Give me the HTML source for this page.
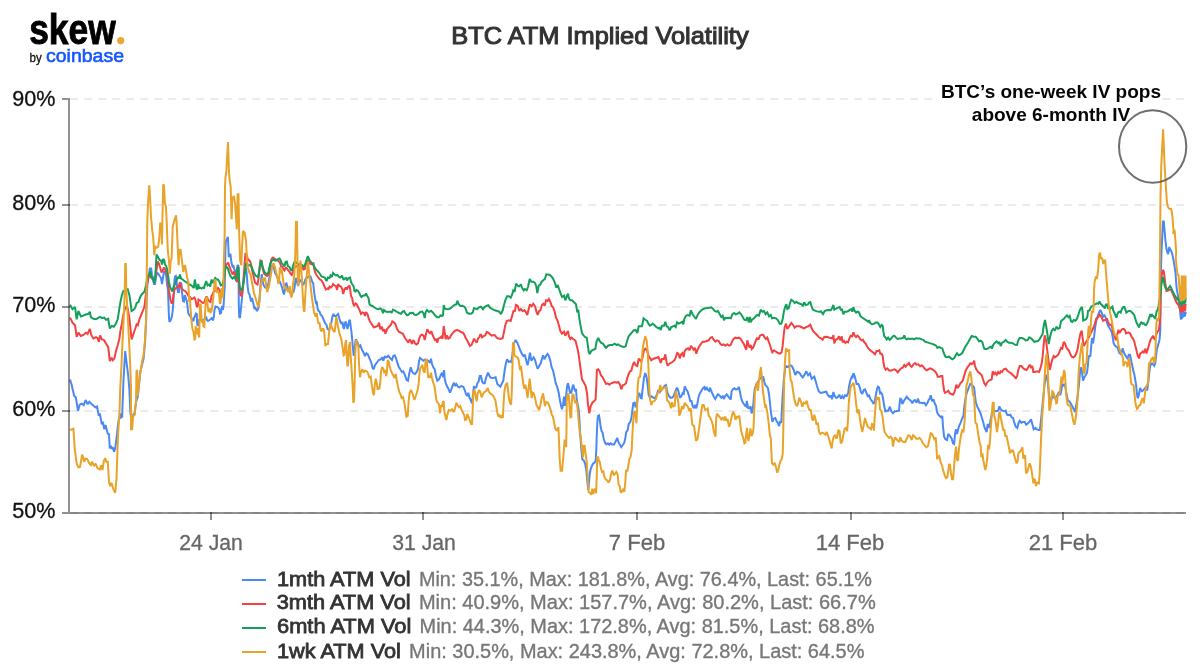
<!DOCTYPE html>
<html lang="en"><head><meta charset="utf-8"><title>BTC ATM Implied Volatility</title>
<style>
html,body{margin:0;padding:0;background:#fff;}
body{width:1200px;height:670px;overflow:hidden;font-family:"Liberation Sans",sans-serif;}
svg{display:block;will-change:transform;}
text{font-family:"Liberation Sans",sans-serif;}
.ylab{font-size:22.3px;fill:#111;stroke:#111;stroke-width:0.3px;text-anchor:end;}
.xlab{font-size:22px;fill:#666;stroke:#666;stroke-width:0.3px;text-anchor:middle;}
.title{font-size:24px;fill:#333;stroke:#333;stroke-width:1.05px;text-anchor:middle;}
.leg{font-size:20.5px;fill:#777;stroke:#777;stroke-width:0.35px;}
.legb{font-size:20.5px;fill:#333;stroke:#333;stroke-width:0.8px;}
.ann{font-size:19px;font-weight:bold;fill:#050505;text-anchor:middle;}
</style></head><body>
<svg width="1200" height="670" viewBox="0 0 1200 670">
<rect width="1200" height="670" fill="#fff"/>
<line x1="70.3" x2="1186" y1="99" y2="99" stroke="#ebebeb" stroke-width="2" stroke-dasharray="7.8 6.2"/>
<line x1="70.3" x2="1186" y1="205" y2="205" stroke="#ebebeb" stroke-width="2" stroke-dasharray="7.8 6.2"/>
<line x1="70.3" x2="1186" y1="307" y2="307" stroke="#ebebeb" stroke-width="2" stroke-dasharray="7.8 6.2"/>
<line x1="70.3" x2="1186" y1="411" y2="411" stroke="#ebebeb" stroke-width="2" stroke-dasharray="7.8 6.2"/>
<line x1="70.3" x2="1186" y1="513" y2="513" stroke="#ebebeb" stroke-width="2" stroke-dasharray="7.8 6.2"/>
<g id="series">
<polyline fill="none" stroke="#4a89f3" stroke-width="2" stroke-linejoin="miter" stroke-miterlimit="2" stroke-linecap="butt" points="70,379.5 71.7,385 74.2,395.9 75.9,397.5 78,410.9 79.7,404.7 81.7,403.7 83.7,405.1 85.6,400 87.6,404.2 89.3,401.7 91.8,404.2 94.3,406.4 96,407.6 97.1,406.7 98.8,415.9 99.8,413.4 101.8,424.3 102.8,421.8 104.3,429.3 105.5,425.1 107.7,433.5 109,434.3 109.8,448.5 111,446 112.2,448.5 113.2,448.2 114,451.9 115.2,448.5 116.5,438.5 117.7,426.8 118.9,418.4 120.2,413.4 121,417.6 122.2,416.8 122.4,409.2 123.5,380 125.2,351.1 126.9,365.3 128.2,375.3 129.4,390 130.3,411 131.2,420 132.5,418 133.5,414 134.6,414 136,402 137.8,396.7 139,385 140.3,372 142,365 143.6,358.6 145.1,342 146.1,320 146.6,300 147.4,283 149,275 149.8,268.5 151.2,268.5 152,276 153,277 154,284 155,284 156,277 157,272.5 158.5,274 160,276.5 161,278 162,284 163,278 164,271.5 165.5,271.5 166.2,276 167,284 168,290 168.5,305 169,318 169.5,322 171,319.5 172,316 172.8,310 173.5,300 174,290 174.5,280 175,276.5 175.8,276 176.5,280 177.2,288 178,292 179,292 179.8,285 180.5,282 181.5,284.5 182,292 183,301 184,301.5 184.8,295 185.8,298 186.8,301 187.5,306 188.2,313 189.5,315.5 191,317 192,319.5 193.5,321 194,318 195,316 196,313.5 196.8,314 197.2,324 197.8,326 198.5,324 199.2,320 200.5,320 202,320 203.5,321 204.5,319 206,316.5 207,320 208,321 209.5,320 211,319 212,317.5 213,320.5 213.8,317 214.5,310 215.5,306.5 217,307 218.5,308 219.5,310 220,313.5 221,313 221.5,308.5 222.2,306 223,310 223.6,305 224.2,295 224.8,285 225,270 225.4,250 225.8,241.9 227.9,236.9 228.8,257 230.4,253.6 231.5,263 232.5,266.5 233.5,266 234.5,270 235.5,271 236.5,276 237.5,265 238.5,266 238.8,305 239.2,317 240,318 240.8,310 241.5,303 242.2,296 242.8,290 243.5,280 244,275 245,272 246,268 246.8,275 247.5,285 248.5,293 249.5,294.5 250.5,298.5 251,301.5 252,298 253,302 254.5,309 255.5,308 257,311 258.5,308 259.5,300 260.5,285 261.8,274 262.5,280 263.5,285 265,287.5 266.5,288 268.5,283 269.5,277 270.5,271 271.5,266 273,264.5 274,268 275,273 276.2,275 278,279 280,282 281.2,285 282.2,288 283.2,292 284,294.5 284.8,290 285.5,284 286.5,283.5 287.5,287 289,291 290.5,293 292,293 293.5,292 294.5,288 295.5,280 296.2,278 297,282 298,286 299,282 300,280 301,281 302,283 303.2,285 304.5,282 305.5,279 307,277.5 309,276.5 310.5,276.5 311.5,279.5 312.5,282.5 313.2,283 314,291 315,298 316,303 316.8,302.5 317.5,308 318.5,311 319.5,311.5 320.5,314.5 322,316 323.5,319.5 325,323 326.5,325 327.5,329 329,330 330.5,326 331.5,322 332.5,316 333.5,314 334.5,316 336,316 337,315 338.2,314 339.2,318 340.5,322 341.5,324 342.5,322 343.2,327 344,329 345,323 345.8,321.5 346.8,326 347.5,329 348.5,325 349.3,320.5 350,320.5 350.8,327 351.5,332 352.7,345.3 353.7,356 354.7,348 355.7,339.3 357.3,342 359,346.7 360.4,345.3 362,350 363.3,352 365,356 366.4,353.3 368,354.7 369.6,358.7 371.3,362.7 372.7,368 373.7,369.3 375,365.3 376.7,362.7 378.7,360 380.7,359.3 382.4,357.3 383.3,360.7 384.7,356.7 386.7,357.3 388.3,355.7 390,358 392,360 393.3,356 394.7,355.3 396,358 397.3,362.7 398.7,366.7 400.7,370 402,372 403.3,371.3 405,375.3 406.7,380 408,380.7 409.3,373.3 410.7,367.3 412,371.3 413.3,373.3 415,374 416.7,372 418,369.3 419,361.3 420,358 421.6,359.3 423.3,360.7 425.3,359.3 427.3,360 428.7,361.3 430,362.7 431,358.7 432,364 433.3,367.3 434.7,369.3 436,376 437.3,380.7 439,379.3 440.7,375.3 442,372.7 443.3,377.3 444,370 444.7,378.7 446,384 447.3,386.7 448.7,389.3 450,392.7 451.3,389.3 452.7,385.3 454,382.7 455,386 456.3,384 458,386.7 459.3,387.3 461.3,386 463.3,386.7 464.7,390 466,394 467.3,396 468.3,392.7 469.3,397.3 470.7,400 472,403.3 473,394.7 474,386 474.7,388 476.3,387.3 477.3,383.3 478.7,381.3 479.7,376 481,376 482,381.3 483.3,383.3 484.7,383.3 486,378 488,372.7 489.6,376 490.5,377.5 492,378 494,377.7 495.6,377.3 497.3,384 498.7,385.3 500.4,386.7 502,383.3 503.3,380.7 504.7,370 506,362.7 507.1,359.3 508.7,362 510,361.3 511.3,362 512.7,352.7 514,343.3 515.6,340 517.3,342.7 519.1,347.3 520.7,351.3 522.3,354.7 523.6,356 524.9,354.7 526.3,360.7 527.6,365.3 528.9,358.7 530,352.7 531.3,360.7 532.7,358.7 533.7,357.3 535.1,360 536.4,365.3 537.7,368.7 539.1,366 540.7,363.3 542,358.7 543.1,355.3 544.4,359.3 546,356 547.6,354 548.9,356 550.3,360.7 551.6,367.3 552.9,370 554.3,376 555.6,382.7 557.3,387.3 558.7,392.7 560,400.7 561.3,406.7 562,409.3 563.1,404.7 564,396.7 564.9,406 566,396.7 567.1,386 568,383.3 568.9,387.3 570,392.7 571.3,392.7 572.7,386 573.3,384.7 574.3,388.7 575.3,391.3 576,388.7 576.7,399.3 577.7,404.7 578.7,410 579.3,418 580,430 581,445 582.3,459.3 583.9,460.7 585,463.3 586.3,470 587.7,484.7 588.3,490 589,482 589.7,474 590.6,469.3 591.9,466 593.3,463.3 594.6,462.7 595.7,460.7 596.3,450 596.7,436.7 597.3,423.3 597.9,416 599,415.3 599.7,419.3 600.7,427.3 601.7,431.3 602.6,432.7 603.7,438.7 605,442.7 606.3,444.4 607.9,443.3 609.3,444.7 610.6,443.3 612.3,444.4 614.1,444.4 615.7,441.3 617.3,438 618.6,442.7 619.9,444.7 621.3,447.1 622.6,445.3 624.3,442.7 625.3,438 626.3,432 627.7,430 628.7,424 630.3,422 631.4,418 632.4,410 633.3,403.3 634.7,402.7 635.6,407.3 636.8,405 638,396.7 639.3,392.7 640.7,398 641.6,398.3 642.7,388.3 644,377.7 645.3,373 646.7,377.7 647.7,385.7 648.7,395 650,397.7 651.7,396.3 653.3,397.7 654.9,398.3 656.7,395 658,391 659.7,392.3 661.3,389.7 662.9,388.3 664.7,385.7 666,385 667.3,392.3 668.7,395.7 670.4,397.7 672,397.7 673.6,396.3 674.9,392.3 676.3,389 677.3,387.7 678.7,392.3 680,397.7 681.3,396.3 682.7,393 683.7,393.7 684.7,386.3 686,389 687.7,391.7 689.1,396.3 690.4,401.7 691.3,400.3 692.7,406.3 694,408.3 694.9,405 696.3,408.3 697.3,404.3 698.4,397.7 699.7,393.7 701.3,391 702.9,388.3 704.3,387 705.3,390.3 706.4,387 707.7,389.7 709.1,391 710,387.7 711.3,391 712.7,394.3 714,397 715.3,399 716.7,396.3 718,394.3 719.7,395.7 721.3,397.7 722.7,396.3 724,399 725.3,395.7 726.7,394.3 728,396.3 729.3,397.7 730.7,399.7 731.7,391 733.1,389 734.4,388.3 736,389.7 737.6,389 738.9,387 740,392.3 741.1,397.7 742.4,401.7 743.7,403.7 745.1,405.7 746,406.3 746.9,401 748,407.7 749.3,408.3 750.7,406.3 751.6,413.3 752.5,411 753.1,407 754,395 754.9,388.3 756.5,384 758.5,381 760.5,378 762,376.5 763.3,377 764.3,381.7 765.3,385 766.7,386.3 768,388.3 769.1,395 770,403 770.9,412.3 771.6,416.7 772.4,422 773.7,418.7 775.3,418 776.7,421.3 778,423.3 779.1,426 780,421.3 781.3,422.7 781.8,411 782.7,395 783.7,381.7 785.1,368.3 786.4,366.3 788,367 790,365 792,366.3 793.6,369.7 795.3,375 797.1,371.7 798.7,372.3 800,373.7 801,375.3 802.7,377.3 804.6,374.7 806.3,371.3 808.1,375.3 809.9,373.3 811.7,378.7 813.4,377.3 814.3,376.7 815.7,381.3 817,386 818.7,391.3 820.3,392.7 822.3,392.7 824.3,392 826.3,391.7 827.7,394.9 829.4,396.7 831,396 832.1,399.3 833.4,392 834.7,396 836.3,398 837.7,397.3 839.3,394.7 841,398.7 842.3,396 843.7,398 845,395.3 846.7,396 848.1,393.3 849,386.7 850.3,380.7 851.7,376.7 852.6,377.3 853.4,373.3 854.7,376 855.7,380 856.6,384 858.3,384 859.7,387.3 861,392 862.3,394 863.7,390 865,389.3 866.3,392.7 867.7,396 869,395.3 870.3,398.7 872.1,401.3 873.7,404 874.7,401.3 875.7,396 877,388.7 877.9,386.7 879,387.3 880.1,393.3 881,392.7 882.3,394.7 883.3,400 884.3,406.7 885.4,411.3 887,410.7 888.3,410.7 889.9,406.7 891.3,411.3 893,413.3 894.7,411.3 896.3,411.3 897.9,410.7 899,410.7 899.7,402.7 900.3,398.7 901.4,399.3 902.3,404 903.7,401.3 905,399.3 906.7,396.7 908.3,398.7 909.9,400 911.3,401.3 912.3,403.3 913.7,400.7 915,400 916.6,402.7 917.9,398.7 919.3,402.7 921,402.7 922.7,403.3 924.3,402.7 925.9,405.3 927.3,403.3 928.6,400 929.7,398.7 930.7,395.3 932.1,401.3 933.4,399.3 934.7,403.3 936.1,406 937,412 938.3,414.7 939.7,416 941,417.3 942.3,416 943,426.7 944.1,436.7 945.4,439.3 947,440 948.3,434 950.1,436 951.7,438.7 953,443.3 954.1,444 955,434.7 955.9,429.3 957,434 958.1,429.3 959.4,425.3 960.7,422.7 962.1,418.7 963.4,416 964.3,406.7 965.7,397.3 967,392 968.7,388 970.1,384 971.5,384.5 973,386 974.1,387.3 975,396 975.9,402.7 977.3,406.7 979,410 980.3,412.7 981.7,417.3 983,421.3 984.3,426.7 985.7,430 986.6,432 987.7,424 988.7,428 990.1,422.7 991.4,416 992.3,410.7 994.3,410.7 996.3,411.3 998.1,410.7 999.4,406.4 1000.7,409.3 1002.3,410.7 1004.3,411.3 1005.7,410.7 1007,414.7 1008.7,415.3 1010.3,414.7 1011.7,417.3 1013,418 1014.3,422.7 1015.7,426.7 1017.3,428 1018.6,422.7 1019.7,420.7 1021.3,422.7 1023,422 1024.7,422 1026.3,424.7 1027.9,423.3 1029.7,421.3 1031,419.3 1032.3,424 1033.7,429.3 1035.4,428 1037,429.3 1038.6,430 1039.9,430 1040.7,422.7 1041.7,413.3 1043,400 1044.3,386.7 1046.1,374.7 1047.5,380 1049,395 1050.5,402 1052.5,396 1054.5,398 1057,396 1058.3,393.3 1059.4,392 1060.3,395.3 1061.3,390.7 1062.3,384 1063.7,385.3 1065,384 1066.3,393.3 1067.7,400 1069.3,401.3 1071,404 1072.7,407.3 1074.1,410 1075,412 1076.3,405.3 1077.7,396 1079,384 1080.3,369.3 1081.3,367.3 1082.3,374.7 1083,380.7 1084.3,377.3 1085.7,375.3 1087,372.7 1087.9,365.3 1088.3,359.3 1089.3,355.3 1090.3,356.7 1091,348.7 1091.9,338 1093,343.3 1094.1,336.7 1095,328.7 1096.3,320.7 1097.7,316 1099,312.7 1100.3,310 1101.7,312.7 1103,316.7 1104.3,315.3 1105.5,317 1107.1,322.8 1108,325.5 1109.4,327.8 1110.8,330.2 1112,332.9 1112.9,338.5 1113.6,343.1 1114.8,345.5 1115.9,346.5 1117.3,346.9 1118.2,349.6 1119.4,353 1121,354.3 1121.9,351.5 1122.6,348.2 1123.5,351.5 1124.7,354.3 1126.1,356.6 1127.2,358.4 1128.1,357 1128.7,354.7 1130,354.7 1130.7,358 1131.4,361.7 1132.4,366.3 1133.3,370.9 1134.4,374.6 1135.3,380.2 1136.1,384.8 1136.7,391.3 1137.4,396.8 1137.9,398.2 1138.6,395.9 1139.5,391.3 1140.1,388 1141.1,390.3 1142,391.3 1143.2,390.3 1144.4,388.9 1145.5,387.6 1146.4,389.4 1147.2,390.3 1147.8,385.7 1148.5,380.2 1149.2,372.8 1150.1,366.3 1151.1,363.5 1152.2,363.5 1153.4,364.9 1154.3,365.8 1155.2,363.5 1156.1,356.1 1156.8,349.6 1158,345.5 1158.9,342.2 1159.6,339.4 1160.3,330.2 1160.6,300 1160.9,270 1161.5,252 1162.3,235 1163,221.5 1163.8,221.5 1164.5,230 1165.5,241 1166.5,249 1167.2,252 1168.2,254 1169.3,247 1170.3,249.5 1171.4,251.5 1172.5,255 1173.5,260 1174.5,266 1175.5,273 1176,280 1176.6,288 1177.5,293 1178.8,301 1180.2,312.1 1180.9,319.6 1181.4,312.5 1181.9,319 1182.4,312.5 1182.9,317.5 1183.4,312 1183.9,317 1184.4,312 1184.9,316.5 1185.4,311.5 1185.7,314"/>
<polyline fill="none" stroke="#f44242" stroke-width="2" stroke-linejoin="miter" stroke-miterlimit="2" stroke-linecap="butt" points="70,317.6 72.5,322.7 75,325.2 76.7,336.9 78.4,332.7 80.9,336 83.4,334.9 85.9,332.7 87.6,333.9 89.8,328.8 91.4,335.2 93.4,338.5 96,337.2 97.6,338.2 98.8,341.9 100.1,335.5 101.8,339.4 103.8,339.9 106,343.6 108.2,347.2 109.8,361.1 111.5,357.8 112.7,360.3 114.3,358.6 116,351.1 117.7,345.2 119.4,338.5 120.5,330.2 121.9,323.5 123.5,314 125.5,307 127.7,308.4 129.4,318.5 130.6,330.2 131.6,339.4 133.6,333.5 135.3,328.5 136.6,324.3 137.8,325.2 139.4,319.3 141.1,315.1 142.8,311 144.4,306.8 145.6,296.7 147,285 148.6,276.7 150,275 151.5,278 153,279.5 155,279 156.5,270 157.8,261.5 159,264 160,267 161.5,272.5 162.8,270 164,267.5 165.5,270 166.5,273 167.5,276 168.5,288 169.5,294 170.5,300 171.5,303 172.5,303 173.5,295 174.5,289.5 176,288 177.5,287 178.5,287.5 179.8,282.5 180.8,286 182,289 184,290.5 185.5,291.5 187,293.5 188.5,296 190,297 191.5,299 193,298.5 194.5,297.5 195.5,300 196.8,307 197.8,306 198.5,299.5 200,300.5 201.5,302 203,303 204.5,302 205.5,298.5 206.5,296.5 208,299.5 209.5,301.5 210.5,302 211.5,296 212.5,294.5 213.5,292 215,291 216.5,290 218,288 219.5,290 220.8,293 222,291 223,288 224.5,275 225.5,265 227,264 228.2,262.5 229.5,267 231,270.5 232.5,274.5 234,271.5 235,275 236,280 237,282 238,266 238.8,280 239.5,290 240.5,295 241.5,296 242.5,290 243.5,280 244.5,265 245.5,253 246.5,255 248,259.5 249.5,260.5 250,261.5 251,264 252.5,272 253.5,276 255,282.5 256.5,284 257.5,284.5 258.5,279 259.5,268 260.5,260.5 261.5,261 262.5,268 264,273.5 265.5,275 267,276 268.5,274.5 270,265 271.5,259 273,257.5 274.5,258.5 276,259.5 277.5,260.5 279,261.5 280,263 281,266 282.5,267 283.5,269.5 284.5,270.5 285.5,268 286.5,268 288,270 289.5,272 290.8,274 291.8,275 292.8,272 293.8,268 296,266.5 298,266 300,266 302,267 303.5,269.5 304.8,269 306,263 307.5,260 309,262.5 310.5,264 312,264.5 313.5,263.5 314,268 315,272 316.5,275 318,277 319.5,279 321.5,280.5 323,283 324.5,286.5 326,289.5 327.5,288.5 328.5,289 329.5,286.5 330.8,287.5 332,286.5 333,284 334.5,285.5 336,286 337,290 338.2,284 339.5,286 341,286.5 342.2,289 343.2,294 344.5,289.5 345.8,287.5 346.8,289.5 348,287 349.5,285.5 350.3,290 351,296 352.2,298 353,303 354,306 355.5,303.5 356.8,304.5 358,307 359.5,310 361,314 362.5,312.5 364,313 365,316 366,312 367.5,314 368.5,318 370,321.5 371.7,324 373.7,327.3 375.7,326.7 377.7,326 379,322.7 380.3,329.3 382,326.7 383,331.3 384.3,329.3 385.4,333.7 387,329.3 389,326.7 391,324.7 392.3,321.3 393.7,322 395.4,324 397,328.7 399,332 401,332.7 403,334 405,338 407,340.7 408.3,342.7 409.7,339.3 411,341.3 412,344 413.3,340 415,343.3 416.3,344.4 418,343.3 419.4,338 420.7,335.3 422.3,334.7 423.7,336 424.7,340 426,334 427.4,329.3 428.7,332 430,333.3 431.4,331.3 432.7,335.3 434,338 435.4,340.7 436.3,338.7 437.3,342.7 438.3,338.7 440,338 441.3,336.7 442.6,338.7 443.7,326 444.7,332.7 445.7,339.3 447,335.3 448.3,338.7 449.7,338 451,335.3 453,332.7 455,330.7 457,330 459,330.7 461,332 463,332.7 464.3,334.7 465.7,338 467,340 468.3,342.7 470,346 471.7,344.7 473,341.3 474,338.7 475.4,340.7 476.7,342.7 478,338.7 479.4,336.7 480.7,334 482,337.3 483.7,336 485.3,335.3 486.6,332 488.3,332.7 490,334.3 491.6,335.7 493.3,335 495.1,335.4 496.7,337.7 498.7,338.6 500.7,339 502.7,338 504,331.7 505.3,325 506.7,321 508.7,320.3 510.7,321 512,316.3 513.7,310.3 514.7,311.7 516,305 517.7,305.7 519.3,311 520.9,309 522.7,311 524.4,310.3 526,312.3 527.3,315 528.7,309 530,304.3 531.6,306.3 533.3,303.7 535.1,306.3 536.4,311.7 537.7,315 539.1,311 540.4,310.3 542,305 543.3,303.7 544.7,305.7 546,300.3 547.6,301 548.9,299 550.3,301.7 551.6,305.7 553.3,307.7 554.7,311.7 556,317.7 557.7,321 559.1,326.3 560.4,331 562,333.7 564,331.7 565.3,335.7 566.7,333 568,331 568.9,336.3 570.3,339 571.6,337.7 572.9,339 574.3,339.7 575.6,341 576.7,345.5 578,350.7 579.3,359.3 580.7,370 582,379.3 584,382.7 585.7,386 587.1,394 588,404.7 589.3,413.3 590.7,406 592.4,402.7 594,401.3 595.6,399.3 596.4,383.3 596.9,370 598.3,369.3 599.6,371.3 600.9,375.3 602.7,377.3 604.4,380.7 606,384 607.6,383.3 609.3,384.7 611.1,383.3 612.7,382.7 614.7,382 616.7,382.7 618.3,382 620,384.7 621.3,389.3 622.7,385.3 624.4,384.7 626,383.3 627.3,378 628.7,374 630,371.3 631.3,370.7 632.7,365.3 634,362 635.6,365.3 637.3,366 638.7,358.7 640,360 641.3,362 642.7,356.7 644,350 645.3,348.7 647.1,350.7 648.7,356 650,358 651.3,360.3 653.1,359 654.9,358.3 656.7,357.7 658.4,357 659.7,359.7 660.7,363 662,359 664,359 665.3,354.3 666.7,363 667.7,365.7 669.3,363.7 670.9,363 672.7,361.7 674.4,360.3 675.7,357.7 677.1,353 678.4,353.7 679.7,358.3 681.1,354.3 682.4,353 683.7,357 684.7,351 686.4,349 688,348.3 689.6,350.3 690.9,345.7 692.3,347.7 693.6,349.7 694.9,347.7 696.3,353.7 697.6,349.7 699.3,346.3 701.1,343.7 702.7,341.7 704.7,341.7 706.7,341 708.7,340.3 710.4,337.7 712,337 713.6,339.7 715.3,341.7 717.1,340.3 718.7,341 720.3,343.7 722,345 723.7,344.3 725.3,345.7 727.3,344.3 729.1,345.7 730.7,345 732,341.7 733.6,339 735.3,337.7 737.1,338.3 738.9,337.7 740.7,339 742.4,341.7 744,344.3 745.3,347.7 746.3,349.7 747.3,340.3 748.7,345 749.6,347.7 750.7,345 751.7,349 753.1,347.7 754.4,344.3 755.7,341 757.1,337.7 758.4,339.7 760,335.7 761.6,334.7 763.3,335 764.7,337.7 766,339 767.3,337.7 768.7,341.7 770,345 771.3,349.7 772.3,352.3 774,350.3 776,351.7 778,353 780,353.7 781.6,352.3 782.7,345.7 783.7,335 784.7,327 786,323.7 787.3,329 788.7,327 790,325 791.3,323 793.1,325 794.7,327.7 796.3,326.3 798,326.3 800,326.3 801,327 802.7,327.7 804.3,328.3 806.3,327 808.3,326.3 810.3,324.7 811.7,328.3 813,331 815,333 817,335 819,337.3 821,338.3 822.7,339.7 824.3,337 826.3,336.7 828.3,337.3 830.3,338.1 832.1,338.3 833.4,335 834.3,343.4 835.7,339.9 837.4,339 839,336.3 840.3,340.3 841.7,336.3 842.7,342.3 844.1,341 845.4,343 846.7,341.7 848.1,342.3 849.4,338.3 850.7,335.7 852.1,336.3 853.4,332.3 854.7,335.7 856.1,337 857.4,335.7 858.7,336.7 860.3,339.4 861.7,340.3 863,339.7 864.3,342.3 865.7,343.7 867,346.3 868.6,348.7 870.3,350.3 872.1,351.7 873.7,353 875,354.3 876.6,351 878.3,351 879.3,350.3 880.3,353.7 881.7,353.7 882.7,355.7 883.4,362.3 884.3,367 885.7,369.7 887.3,368.3 889,370.3 890.7,370.6 892.3,370.1 894.3,369.3 896.1,370.3 897.7,372.3 899.3,370.3 901,368.3 902.7,367.7 904.3,365 905.7,366.6 907.3,364.7 909,363 910.3,365.7 911.7,367 913.4,364.3 915,363 916.6,364.7 918.3,364.3 920.1,366.3 921.7,365.3 923.3,366.6 925,369 926.7,370.3 928.3,369.3 929.9,368.3 931.7,369 933.7,370.3 935.3,371.7 936.5,373.5 937.7,376.7 939.7,376.7 941,376 942.3,376 943,382.7 944.1,390.7 945,392.9 946.6,392 948.3,390.7 949.7,393.3 951.4,394 953,394.7 954.3,392.7 955.4,388.7 956.3,384.7 957.7,388 959,386 960.3,383.3 961.7,382 963,380 964.3,375.3 965.7,370.7 967.4,367.3 969,365.3 970.3,363.3 971.7,364 973,363.3 974.1,360.7 975,366 976.3,369.3 978.1,372 979.9,373.3 981.7,375.3 983,379.3 984.3,383.3 985.7,385.3 987,382.7 988.7,380.7 990.3,380 991.7,379.3 992.7,371.3 994.1,374 995.4,372.7 996.7,374.7 998.1,372 999.4,374 1000.7,371.3 1002.1,372 1003.7,369.3 1005.7,368.7 1007.4,370.7 1009,372 1011,373.3 1013,375.3 1014.6,376.7 1015.9,378.7 1017.3,375.3 1018.3,370 1019.7,366 1021.3,366 1023,368 1024.7,369.3 1026.6,370 1028.3,367.3 1029.7,364.7 1031,367.3 1032.3,366 1033.3,372 1035,372 1037,371.3 1039,372 1040.3,368.7 1041.7,363.3 1042.6,356.7 1043.7,344.7 1044.7,335.3 1046.1,340.7 1047.4,351.3 1048.7,362 1049.7,370 1051,364.7 1052.3,359.3 1053.7,356 1055,357.3 1056.7,356 1058.3,354.7 1059.7,351.3 1061,348 1062.3,348.7 1063.7,342 1065,343.3 1066.3,347.3 1067.7,349.3 1069,350.7 1070.3,354 1071.7,356.7 1073.3,357.3 1075,356 1076.3,353.3 1077.7,348.7 1079,340.7 1080.3,334 1081.7,330.7 1082.6,338 1083.7,346 1085,344 1086.1,342 1088,339 1090,335 1092.3,330 1093.7,327.3 1095,323.3 1096.3,318.7 1098.1,317.3 1099.7,314.7 1101.3,316.7 1103,320.7 1105,320 1107.1,319.1 1108,321.8 1109,324.1 1110.2,325.1 1111.3,324.6 1112.2,327.4 1113.1,332 1114.1,334.8 1115,337.6 1115.9,340.3 1116.8,336.6 1117.8,332 1118.5,329.7 1119.4,332.9 1120.5,331.5 1121.6,329.7 1122.8,328.8 1124,329.2 1125.2,330.6 1126.1,333.4 1127.2,332.9 1128.4,332.5 1129.6,332.9 1130.7,334.8 1131.8,337.1 1133,338.5 1134.2,341.3 1135.1,345 1136.1,348.7 1137,352.8 1137.9,356.1 1139,358.4 1139.8,355 1140.4,353.3 1141.6,352.8 1142.7,351.4 1143.8,352.4 1144.8,350.5 1145.5,348.7 1146.4,353.5 1147.4,350.5 1148.5,346.8 1149.7,342.2 1150.9,338.9 1152,337.6 1153.1,335.7 1154,338.5 1154.9,339.4 1156.5,334 1158,331.1 1158.9,330.2 1159.8,322.8 1160.3,313.5 1160.6,300 1161,285 1161.7,275 1163,270 1163.8,271.5 1164.5,277 1165.5,285 1166.5,291 1168,290.5 1169.5,289.5 1171,290 1172.5,293 1173.5,295.5 1174.5,298 1175.1,299.6 1177,303.3 1178.8,305.2 1180.2,309.8 1181.1,312.6 1181.6,305 1182.1,312.5 1182.6,304.5 1183.1,312 1183.6,304.5 1184.1,311.5 1184.6,304 1185.1,311 1185.6,304"/>
<polyline fill="none" stroke="#149f5b" stroke-width="2" stroke-linejoin="miter" stroke-miterlimit="2" stroke-linecap="butt" points="70,304.8 72.5,309.3 75,307.1 76.7,319.3 78.4,311 80.9,316.5 85.1,314.8 88.4,313.8 89.8,311.8 90.9,317.1 93.4,318.8 96,319.3 98.5,317.6 100.1,316.8 101.8,318.1 104.3,317.6 106,319.8 108.2,318.8 109.8,328.5 111.8,326 113.8,326.8 116,323.5 117.7,319.3 119.4,308.4 120.5,301.8 121.9,295.1 123.2,291.4 125.5,289.5 127.7,289.2 129.4,295.1 130.6,303.4 131.6,311 133.6,309.8 135.3,307.6 136.6,303.1 138.6,301.8 140.3,296.7 141.9,294.2 144.4,291.7 146.1,285 147.3,278.3 148.6,275 149.5,273.5 150.5,271.5 151.5,277.5 153,279.5 154,283 155,280 155.8,268 156.5,254.5 158,257 159.5,260 161,260.5 162,264.5 163.2,259 164.2,260 165,264.5 166.2,266 167.2,269.5 168,275 169,282 170,287 171.5,290 172.5,291.5 173.5,287 175,284 176.5,280 178,277.5 179,278.5 180,274.5 181,278.5 182.5,279.5 184.5,281 186,282 188,283.5 189.5,284.5 191,285 192.5,286.5 193.8,288 194.8,279.5 195.6,284 196.5,288.5 197.5,289.5 198.2,284 199,288.5 200,287.5 201.5,288.5 203,287.5 204,288 205,284.5 206.2,281 207.5,285.5 209,284.5 210.3,286.5 211.5,279.5 212.5,283 214,280.5 215.2,278 216.5,279.5 218,279.5 219.5,282 220.8,285.5 222,285 223,283 224.5,275 225.5,267 226.5,266.5 228,269 229.5,274 231,277 232.5,278.5 234,277 235.5,279 236.8,276.5 237.5,268 238.5,267 239,280 240,288.5 241,290 242.5,288 243.5,283 244.5,276 245.5,268 246.2,263 247.5,264.5 249,265.5 250.5,265 252,268 254,273 256,276 258,277 259.5,270 260.5,262 261.5,261.5 262.5,266 264,271 265.5,273.5 267,274 268.5,272.5 270,265 271.5,261 273,259.5 275,260.5 276.5,260.5 278,259 279.5,258.5 280.5,260 281.5,263 283,264.5 284.5,266.5 285.5,262 286.8,261.5 287.8,266 289.5,267 290.5,269.5 291.5,271 292.5,268 293.5,264 294.5,262 296,262.5 298,264 300,264.5 302,265 303.5,266.5 305,265 306.5,260 307.8,256 309,259 310,261 311.5,262.5 313,264 314.5,267 316,269.5 318,271.5 320,274 321.5,276.5 323.5,277 325,278 326.5,281 328,277.5 329.5,278 330.5,275.5 331.8,277 333,273 334.5,274.5 336,275.5 337.5,275 339,277 340.5,277.5 342,275.5 343.5,280 344.5,278.5 346,278 347,280.5 348.5,278 350,277.5 351,282 352,284 353.5,286 354.5,291 355.5,291.5 356.5,290 358,291 359.5,293.5 360.5,296 361.5,297 363,295.5 365,295.5 366,293.5 367,295.5 368.5,298 369.5,304 370,305 372.3,306 374.3,307.3 376.3,308.7 378.3,309.3 380.3,308.4 381.7,309.3 383,313.3 384,310 385.7,311.6 387.7,312 389.7,311.6 391.7,312.4 393,309.7 395,310.7 397,312 399,313 401,313.7 402.6,311.6 404,311 405.7,313.7 407,315.3 408.7,314.7 410.3,312.7 411.7,313.3 413,312.7 414.3,314.7 416.3,315 418.3,314 420.3,312 422.3,311.6 423.7,314 424.7,318 425.7,312 427,310 429,312 431,310.7 433,312.7 435,315.3 437,317.3 439,317.3 440.7,315.3 441.7,316 443,315.3 443.7,305 445,308.7 447,309.3 449,309 451,308 453,306 455,304.7 456.3,304.4 457.4,300.7 458.6,304 460.3,306 462.3,305.7 464.3,306.7 465.7,308.7 467,312.7 469,313.7 471,313.7 472.7,312.7 474,308 475.7,308.7 477,309.3 479,307.3 481,306.7 483,309.3 484.3,307.3 486.3,306 488.3,305.3 490,307.7 492,309 494.7,310.3 497.3,311 499.3,311.7 500.9,314.1 502.7,310.3 504,305 505.3,300.3 507.1,296.3 508.9,296.3 510.7,297.7 512,295 513.3,290.3 514.7,291.7 516,283.7 517.7,285.7 519.3,286.3 520.9,284.3 522,287.7 523.6,290.3 524.9,289 526.7,290.3 528,287 529.7,279 531.3,281.7 533.3,281.7 535.1,283 536.4,287 537.3,293 538.7,285.7 540,285 541.7,281.7 543.3,280.3 544.9,279 546.3,274.3 548,274.6 549.7,275 551.3,276.3 552.9,278.3 554.7,282.3 556.4,287.7 557.7,285 559.3,289.7 560.7,293.7 562,297 564,295.7 565.3,300.3 566.7,296.3 568,293.7 568.9,298.3 570.3,300.3 572,300.3 574,302.3 576,304.3 577.3,312.3 578.3,309.7 579.3,318.3 580.7,326.3 582,333 583.3,335 584.9,337 586.7,337.7 587.6,343.7 588.7,351.7 589.7,354 591.3,351 593.3,349.7 595.3,349 596.7,341 598.3,338 599.6,341 601.3,343 603.1,343.7 604.7,346.3 606,347.7 608,345.7 610,345 612.4,345 614.7,343.7 616.7,345 618.3,344.3 620,345.7 622,346.6 624,347 625.7,346.3 627.1,341 628.7,336.3 630.3,334.3 632,332.3 633.7,330.3 635.6,330.1 637.3,333 638.7,326.3 640.4,326.3 642,326.3 643.6,318.3 645.3,319.7 647.1,321 648.7,324.3 650,325.7 652.7,323.7 654.4,325 656.3,327 658.4,328.3 660,327.7 660.7,330.3 662,325.7 664,325.7 665.3,321.7 666.7,326.3 668,327 669.6,330.3 671.3,327 673.1,326.3 674.4,325.7 675.7,327 677.1,322.3 678.7,323.7 680.3,323 682,321.7 683.3,324.3 684.3,319 686,315.7 687.7,315 689.6,315.7 690.9,310.3 692.3,313.7 694,316.3 696,319 697.6,315 699.3,312.3 701.3,310.3 703.3,309 705.3,308.3 707.3,308.1 709.3,307.7 711.3,307.3 713.1,309 714.7,311 716.3,311.7 718,311 719.7,314.3 721.3,317 722.7,315.7 724,320.3 725.3,317.7 727.3,317.9 729.3,317.7 730.9,318.3 732.3,314.3 734,313 735.7,314.3 737.6,313.7 739.3,312.3 741.1,314.3 742.7,317 744.3,319.7 746,320.3 747.3,317 748.7,322.3 750,317 750.7,322.3 752,319.7 754,318.3 755.7,316.3 757.3,315 758.9,315.7 760.7,309.7 762.4,311.7 764,311 765.6,314.3 767.3,312.3 769.1,316.3 770.7,315 772,318.3 774,317.7 776,318.3 778,320.3 779.7,323.7 781.3,323.7 782.7,319 784,311 785.3,306.3 786.4,304.3 787.3,309 788.7,308.3 790,303 791.3,299.7 793.1,301 794.7,303 796.3,301.7 798,303 800,303.7 801.7,304.3 803,306.1 804.1,302.3 805.7,305 807.7,304.7 809,302.6 810.3,302.1 811.7,307 813,309.7 815,310.6 817,311.4 819,311.7 821,311.4 823,314.1 824.6,311 826.7,310.3 828.6,310.1 830.7,310.3 832.3,307.7 833.4,305 834.3,309.7 836.1,308.7 837.7,307.7 839.7,307 841,310.3 841.9,308.7 843.3,314.3 844.6,311.7 846.3,311.7 848.3,311 849.9,309.7 851.3,309.3 852.3,311.7 853.4,307 854.3,310.3 856.1,312.7 857.7,311.7 859,312.3 860.6,316.3 862.3,317.7 864.3,319 866.3,320.3 868.1,321.7 869,320.3 870.3,323 872.1,324.3 873.9,323.9 875.7,322.6 877.4,322.6 879,324.3 880.3,327 881.7,325 882.7,325.7 883.4,331.7 884.3,336.3 885.7,337.7 886.7,339.4 888.1,337.7 889.7,339.9 891.3,338.3 893,336.3 894.3,335.7 896.1,337.7 897.9,339 899.7,338.6 901.7,338.3 903.3,337.7 904.3,335.4 905.4,338.3 906.7,339.4 908.3,338.6 910.3,339 912.3,338.6 914.3,339.4 915.7,338.3 917.7,338.6 919.7,338.6 921.7,339.4 923.3,339.9 925,341.7 926.7,342.3 928.3,342.6 930.3,343.4 932.3,343.9 934.3,344.7 936.1,345.7 937.4,347.9 939,347 940.6,347.9 942.3,348.3 943.3,351.7 944.3,354.3 945.7,357 947.3,357.3 949,356.7 950.7,358.1 952.3,359.3 954.3,358 955.7,355.3 957,353.3 958.6,355.3 960.3,354.7 962.1,353.3 963.7,350 965,347.3 966.6,344.7 968.3,342 970.1,338.7 971.7,336 973.7,336.7 975.7,336.7 977.3,338.7 979,341.3 980.7,340.7 982.3,342 983.4,346 984.3,348.7 986.1,349.3 987.7,348.7 989.3,347.3 991,346.7 991.9,348.7 993.3,344.7 995,342.7 996.7,341.3 998.3,343.3 999.4,342 1000.7,346 1002.1,342.7 1003.7,342 1005.7,340 1007.4,342 1009,342.7 1011,342.7 1013,343.3 1015,344.7 1017,344.9 1018.1,340.7 1019.7,338 1021.7,338 1023.7,338.7 1025.7,340.4 1027.7,340 1029.3,337.3 1031,338.3 1032.7,340 1034.3,342 1035.9,341.3 1037.7,341.3 1039.4,339.3 1041,336.7 1042.6,334 1043.7,326 1045,320 1046.1,326 1047.4,334 1048.7,344 1050.1,336.7 1051.7,330.7 1053.3,328.7 1055,330.7 1056.3,326.7 1058.1,328.7 1059.7,328 1061,321.3 1062.3,320 1063.9,318.7 1065.7,316.7 1067,315.3 1068.3,317.3 1069.7,316 1071,321.3 1072.3,322 1073.7,320 1075.4,320.7 1077,318.7 1078.6,314 1079.9,310 1081,308 1082,307 1082.8,314 1083.2,320.5 1084.3,320 1086.1,319.3 1087.4,316.7 1088,311 1089.5,310.5 1090.5,308 1091.5,306.5 1093,305.5 1095.1,304.3 1096.9,303.3 1098.3,303.8 1099.7,301.5 1100.6,303.8 1102,305.2 1103.7,307 1104.8,308.4 1105.7,304.7 1106.8,304.3 1108,308 1109.9,308.9 1111.3,307.5 1112.4,306.6 1113.3,310.7 1114.5,313 1115.4,315.4 1116.4,317.7 1117.3,314.4 1118.5,312.1 1119.6,311.7 1120.7,312.6 1121.9,308.9 1123.3,307 1124.4,307 1125.3,309.3 1126.3,312.6 1127.5,311.7 1128.9,310.7 1130.2,310.9 1131.6,312.1 1133,313.5 1134.2,314.9 1135.1,318.1 1136.1,321.4 1137.2,324.1 1138.3,326 1139,327.4 1140,324.1 1141.3,322.3 1142.5,323.7 1143.7,323.2 1144.8,324.6 1146,325.1 1147.2,323.2 1148.3,320.4 1149.4,317.2 1150.3,314 1151.2,316.7 1152.2,314.9 1153.1,315.8 1154,317.2 1154.9,318.1 1155.9,315.4 1156.6,311.2 1157.5,310.3 1158.5,306 1159.4,300.6 1160.3,295 1160.8,290 1161.5,284 1162.2,280 1163,277 1163.8,280 1164.5,285 1165.5,288 1166.8,289.5 1168,288.5 1169,287.5 1170,286 1171.2,288 1172.5,291 1173.5,293 1174.5,295 1175.5,296.5 1176.5,298.5 1177.5,300 1178.5,297.5 1179.3,301.5 1180.2,303.3 1181.2,305.8 1181.7,299 1182.2,304.8 1182.7,298.5 1183.2,304.3 1183.7,298.5 1184.2,304 1184.7,298 1185.2,303.5 1185.7,298"/>
<polyline fill="none" stroke="#e8a328" stroke-width="2" stroke-linejoin="miter" stroke-miterlimit="2" stroke-linecap="butt" points="70,430.2 73.4,428.8 74.7,448.5 76.7,463.6 78.4,467.3 80,467 82.2,454.4 84.2,462 85.4,458.6 87.1,458.9 89.3,463.3 90.9,465 92.1,461.6 94,466.1 95.6,463.6 97.6,468.3 99.8,469.5 101.1,465.3 102.5,470 103.8,461.1 105.2,458.1 106.3,461.9 107.8,461.6 109,482 110.2,486.2 111.5,482.8 113.2,488.7 115.2,492.9 116.5,478.6 117.4,451.9 118.2,431.8 119.4,415.1 120.3,387.5 121.5,365 122.3,346 123.8,315 124.8,290 125.2,264 125.8,264 126.3,290 127.7,315 129.3,346 130.2,365 131,387 131,429.3 132.2,429.3 133.2,415.1 134.4,416 136,401.7 136.5,370.3 137.2,371 137.6,396 138.6,388 140,375 142,362 143.6,355 145,340 146.1,320 146.5,300 147,250 147.3,220 148.2,200 149.3,185.4 150.2,200 151,216.8 152.2,230.2 153.2,236.9 154.3,255.3 155.2,246.1 156.5,247.8 158.2,246.9 159.4,236.9 160.2,223.5 161.4,223.5 161.9,244.4 162.4,220.2 163.2,184.2 164,185.9 164.9,203.4 166,206.8 166.9,226.9 167.7,248.6 168.9,260.3 169.9,273.7 170.6,261.1 171.6,258.6 172.7,226.9 174.4,220.2 176.1,215.2 176.9,228.5 177.8,248.6 178.6,265.3 179.4,250.3 180.6,249.4 181.9,260.3 183.3,272 184.4,265.3 185.3,266.2 187,277 188.3,282 189,298 189.2,302 189.8,297 190.5,308 191,315 191.8,324 192.5,329 193.5,332 194.5,339.5 195.2,339 195.7,326 196.5,334 197.5,328 198.5,335 199.2,337.5 199.6,320 200,304.5 200.7,304.5 201.3,315 202,323 202.8,320 203.5,326.5 204.3,327 204.8,318 205.5,305 206.2,297.5 207,298 207.5,305 208.5,312 209.5,308 210.5,313 211.5,311 212,308 212.8,303 213.5,295 214,290 214.8,280 215.5,279.5 216,290 217,292 218,291 219,293 219.8,303 220.5,303 221.2,295 221.6,288 222.2,297 222.8,297.5 223.5,282 223.9,260 224.6,236.9 225,186 225.5,177 226.3,172 228,142.1 229,172 229.6,180 230.7,186.5 231.6,219.3 232.4,198.4 233.8,195.9 235.1,203.4 236.8,229.4 237.6,194.2 238.5,194.2 239.1,230.2 240.1,260.3 241.3,265.3 242.1,245.3 243,231 244.6,232.7 246,240.2 247,260 248,268 249.5,273 250.5,274 251,277 252.5,285 254,293 255.5,298 257,303 258.2,307 259.2,303 260,293 261,284 262,280 263,278 263.8,281 264.8,277.5 265.8,282 266.5,288 267.2,292 268.2,289 269.2,285 270,280 271,274 272,268 273.5,263 275,267 276.2,273 277.5,278 278.5,284 279.2,280 279.8,268 280.5,268 281.2,272 282,271.5 282.8,278 283.8,285 284.5,289 285.5,286.5 286.5,288.5 287.8,292 289,290 289.8,286 290.5,295 291.5,297.5 292.2,294 293,284 294,278 294.7,268 295.6,245 296,222 296.9,222 297.2,245 297.6,268 297.8,279 298.3,286 299,277 299.7,268 300.5,260.5 301.2,268 301.8,277 302.5,290 303,300 303.8,311.5 304.5,311 305,300 305.8,287 306.5,278 307.2,270 308,261.5 308.8,270 309.5,278 310.5,285 311.2,292 312,298 313,305 314,312 315,315 315.8,316.5 316.8,313 317.8,321 318.8,324 319.5,322.5 320.5,329.5 321.5,331.5 322.5,329 323.5,329 324.2,332 325.3,346 326.7,344 328,344 329,333.3 330.4,322.7 331.7,327.3 333.3,330.7 334.7,332 335.7,322 336.2,317 337,320 338,326.7 339.3,332.7 340.7,337.3 341.6,340.7 342.7,348 343.6,355.3 344.4,354.7 345.3,343.3 346,340 346.7,353.3 347.3,365.3 348,366 349,346.7 350,342 350.7,356 351.7,370.7 352.7,386.7 353.3,402.7 354,401.3 354.7,380 355.3,353.3 356,340 357,343.3 358.4,346.7 359,364 360,377.3 361,372 362.4,369.3 363.7,372.7 365,370.7 366.7,371.3 368,373.3 369.3,377.3 370.7,376.7 372,386.7 373,392.7 374,395.3 374.7,385.3 375.7,378.7 376.7,382.7 377.6,390 378.7,386.7 379.3,389.3 380.3,382.7 381,372 382,367.3 383.3,368.7 384.3,373.3 385.3,370 386.3,376 387,370.7 387.7,360 388.7,361.3 389.6,366 390.7,370 392,373.3 393.3,375.3 394.4,378 395.7,374 396.7,380 398,386.7 399.3,392 400.7,394.7 401.6,398 403,397.3 404.7,404.7 406.4,416.7 407.7,416 408.7,400.7 409.6,392.7 411,390 412.7,394 414.4,400 416,395.3 417.6,390 418.7,383.3 419.5,373 420.3,368 421.3,367.3 422.4,364.7 423.3,370.7 424.7,372.7 425.6,360 426.7,360 427.7,372 428.3,377.3 430,377.3 431,372.7 432,378 433.3,382.7 434.7,387.3 435.7,395.3 436.7,401.3 438.4,403.3 439.3,406 440,413.3 440.7,405.3 442,406.7 443,401.3 443.7,402 444.3,411.3 445.3,416 446.4,420 447.3,415.3 448.7,410 450.4,410.7 452,409.3 453.6,412 455,408.7 456.3,402.7 457.6,405.3 459,407.3 460.3,406 461.6,410 463.3,413.3 464.3,415.3 465,420 466.4,419.3 467.3,414 468.7,417.3 470,420.7 471,424 472,424 472.7,410 473.3,391.3 474.7,390.7 475.7,396.7 476.7,401.3 477.6,394 479,390 480.3,392 481.6,397.3 483,394 484.3,392 486,391.3 487.7,388 489,392 490.7,394 492.3,394.7 494,397.3 495.3,400 496.3,406 497.3,412.7 498.4,416.7 499.7,414.7 500.7,418 502,415.3 502.9,418 503.5,404.7 504.4,391.3 505.7,384.7 507.1,382.7 508,390 508.9,398 510,402.7 511.1,404.7 511.7,394 512.4,370 512.9,343.3 514,343.3 514.4,355.3 516,356.7 517.3,357.3 518.7,360 520,370 520.9,366 522,374 523.3,384 524.4,388.7 525.3,384.7 526.7,391.3 527.6,398 528.7,387.3 529.7,378.7 530.7,388.7 531.6,398 532.7,392.7 533.7,393.3 535.1,398 536.4,404.7 537.7,407.3 539.1,410 540.4,404.7 541.7,398 543.1,393.3 544,399.3 544.9,406 546.3,402 548,402.7 549.3,406 550.7,410 551.7,414.7 553,416.7 554,422 555.3,428.7 556.7,430.7 557.6,428.7 558.4,427.3 559,440.7 559.7,459 560.6,470.7 562.1,470.7 563,460.7 563.9,450 564.6,440.7 565.7,441.3 566.1,447.3 566.5,430 566.7,402 567.6,393.3 568.7,395.3 569.7,408.7 570.4,417.3 571.3,417 571.6,404.7 572.4,395.3 573.3,394 574.3,399.3 575.3,403.3 576.4,400.7 577.3,406 578,412.7 578.6,420.7 579.7,431.3 581,440.7 582.1,448.7 583,457.3 583.7,446 584.7,446 585.4,452.7 586.6,460.7 587.4,472.7 588.1,484.7 588.7,492 590.3,493.3 591.4,494.7 592.3,488.7 593.3,494 594.3,490 595.4,488.7 596.1,493.3 596.7,476.7 597.3,457.3 598.1,457.3 599,461.3 599.9,462 601,468.7 602.1,472 603.4,471.3 604.3,476.7 605.7,479.3 607.4,480.7 608.7,482.7 610.1,479.3 611,474 612.3,470.7 613.7,474.7 615,474 616.3,472 617.7,474.7 618.6,484.7 619.7,486 620.7,492.7 622.1,491.3 623.4,488.7 624.3,492 625.3,482 626.1,470 627.4,471.3 628.3,466 629.3,459.3 630.6,456.7 631.7,450 632.3,436.7 633,423.3 634.1,412.7 635,411.3 635.9,418 636.5,423.3 636.9,412 637.7,386 638.7,377.3 640,376.7 640.9,370 642,356.7 643.1,346 644.4,340 645.3,336.3 646.7,340.7 647.4,348.3 648.3,364 649.1,386 650,399 651.3,405 652.7,401.7 654.4,401 656,399 657.3,393.7 658.9,391.7 660.3,385 661.3,391 662.9,388.3 664.7,387.7 666,387 667.1,400.3 668.7,401.7 670,404.3 670.9,408.3 672,402.3 673.3,406.3 674.7,405.7 675.7,391 677.1,396.3 678.4,403 679.3,415.7 680.7,412.3 682,406.3 683.3,409 684.7,403 686.4,405 688,407 689.3,411 690.7,408.3 691.5,416.5 692.3,424.5 694,426 695,433 696,441 697.5,439 698.6,432 699.8,422.5 701.1,413 702.4,405 703.7,405 705.1,409.7 706.4,409.5 707.7,408.5 708.7,416 709.5,416.5 710.5,418.5 711.5,420.5 712.8,425 713.8,431.5 715,435.5 715.6,436.5 716.2,418 717,413.7 718,415 719.5,416.8 721.3,419.5 722.9,417.2 724,420.5 725.2,416.5 726.4,420.8 727.6,419.2 729,426.8 730.4,422.8 731.6,417.2 733,411.8 734.4,414.2 735.5,419.8 736.8,416.8 738.2,417.5 739.3,415.5 740.2,423.8 741.1,430.5 742.5,435.8 743.6,439.5 744.4,443.3 745.3,442.7 746.2,434.5 747,427.8 747.6,436 748.5,441 749.5,435.2 750.5,428.5 751.5,436 752.5,434.2 753.5,428.5 754.2,412 754.9,392.3 756,385.7 757.1,382.3 758,391 758.9,381.7 760,372.3 760.9,367 762,379 762.9,391 764,399 765.1,406.3 766,405.7 767.4,413 768.7,423 769.8,435 770.8,438 771.3,450 772,463.3 773.3,464.7 774.7,462.7 776,467.3 777.3,472.7 778.3,470 779.3,464.7 780.4,461.3 781.7,459.3 782.7,454 783.2,436.7 783.6,410 784.2,380 784.9,363 786,348.3 787.3,351 789.1,350.3 789.6,369 790.7,380.3 791.7,381.7 793.1,391 794.4,399 795.7,404.3 797.1,406.3 798.4,401.7 799.3,397.7 801,402 802.3,406.7 803.7,402.7 805.4,403.3 806.7,400.7 808.1,406.7 809.7,410.7 810.7,409.3 812.1,418.7 813,420.7 814.3,414.7 815.7,420 816.6,424.7 817.9,422.7 819,432 820.3,434 821.9,432.7 823.7,433.3 825.4,434.7 826.7,432 828.1,436 829.4,440 830.7,445.3 831.7,448.5 832.6,441 833.7,436.7 835.1,434.7 836.4,438.7 837.3,436.7 838.3,430 839.6,431.3 840.7,443.3 842,442 843.3,435.3 844.7,428.7 846,428 847.1,431.3 848,420 848.7,404 849.7,393.3 850.7,386.7 852.1,384.7 853.4,382.7 854.3,386.7 855.3,396 856.3,405.3 857.4,413.3 858.7,409.3 859.7,417.3 861,425.3 862.3,432 863.7,425.3 865,418 866.3,422.7 867.7,426.7 869.4,428 871,429.3 872.1,424 873,424.7 873.9,430.7 874.7,417.3 875.7,404 876.6,396.7 877.9,398.7 879,397.3 880.1,409.3 881.4,411.3 882.7,417.3 883.7,426.7 884.6,432 885.9,434 887.3,436 889,438 890.7,436.7 892.1,438.7 893,446.7 893.9,441.3 895,437.3 896.6,439.3 897.9,440.7 899.3,442 900.3,437.3 901.5,440.5 903.3,442 905.3,442 906.7,438.7 908.3,435.3 910,436 911.7,440 913.1,435.3 914.7,436.7 916.3,438.7 918,438.7 919.7,438 921.3,440 922.9,443.3 924.7,445.3 926.4,447.3 928,446 929.3,440 930.7,433.3 932,434 933.6,437.3 934.7,440 935.7,437.3 936.4,446.7 937.1,459.3 938,456.7 939.3,456 940.7,462.7 942,465.3 943.3,470.7 944.7,475.3 946,478 947.3,477.3 948.3,470.7 949.1,464 950,464.7 950.9,472.7 952,479.3 953.1,479.3 954,466.7 954.9,456 956,446.7 957.1,460 958,460.7 958.9,449.3 960,441.3 961.1,434.7 962.4,429.3 963.5,432.5 964.7,420 965.7,400 966.3,386.7 967.7,381.3 969,374.7 970.3,371.3 971.3,377.3 972.3,389.3 973.3,396 974.1,394.7 974.6,406.7 975.4,422.7 976.7,424 977.7,430.5 978.7,437.3 979.7,442.7 980.7,446 981.3,457.3 982.4,453.3 983.3,460 984.3,465.3 985.3,470 986.4,465.3 987.3,457.3 988,444.7 989.1,449.3 989.9,442 990.6,430.7 991.7,416 992.7,402.7 993.7,402.7 994.3,416 995.4,420 996.3,426.7 997,432 998.1,424 999,413.3 999.9,412.7 1001,418.7 1002.3,425.3 1003.4,430.7 1004.3,429.3 1005.3,436 1006.6,436 1007.7,441.3 1009,448 1010,453.3 1010.9,450 1012,452 1013.1,450 1014,454.7 1015.3,459.3 1016.7,463.3 1017.6,461.3 1018.4,453.3 1019.7,452 1021.1,450 1022.4,447.3 1023.3,458.7 1024.3,456 1025.1,455.3 1026,473.3 1027.3,472 1028.7,466.7 1029.6,463.3 1030.7,466 1031.7,471.3 1032.7,478.7 1033.3,483.3 1034.7,478.7 1036,486 1037.3,482.7 1038.9,483.3 1039.7,473.3 1040.5,453.3 1041,440 1041.7,426.7 1042.3,413.3 1043.4,400 1044.3,382.7 1045.3,366.7 1046.1,356 1046.8,354 1047.3,360 1047.9,373.3 1048.7,393.3 1049.3,410.7 1050.3,408 1051.4,398.7 1052.3,391.3 1053.3,392 1054.3,396 1055.4,398.7 1056.3,403.3 1057,402.7 1057.7,396 1059,394.7 1059.9,392 1060.7,384 1061.4,376.7 1062.3,383.3 1063.3,376 1064.1,370 1065,374.7 1065.7,386.7 1066.6,398.7 1067.7,404.7 1069,405.3 1070.3,406 1071.4,411.3 1072.3,416 1073.3,421.3 1074.3,424.7 1075.4,420 1076.3,413.3 1077,406.7 1077.7,396 1078.3,380 1079,367 1079.9,356.7 1081,348.7 1082.1,342.7 1082.9,356.7 1083.7,374 1084.7,372 1085.3,364.7 1086.4,363.3 1087.3,350 1088,334 1088.7,326 1089.6,330 1090,335.7 1090.9,322.8 1091.7,311.7 1092.6,312.1 1093.2,311.7 1093.7,304.3 1094,290 1094.5,283 1095,280 1095.8,276.5 1096.8,279 1097.8,273 1098.5,265 1099,256 1099.5,253.5 1100.3,253.5 1100.8,259 1101.5,257.5 1102.5,259.5 1103.2,264 1104,260.5 1105.2,260.5 1105.8,270 1106.5,279 1107.2,287 1108,297 1109,307 1110.2,313.5 1111.3,318.1 1112.2,322.8 1113.1,328.3 1113.9,332 1114.8,334.8 1115.9,335.7 1116.8,334.8 1117.6,338.5 1118.2,344 1119.3,348.7 1120.3,351.5 1121.2,353.2 1122.2,355.2 1123.1,358.9 1123.5,366.3 1124.4,363 1125.6,362.1 1126.8,363.5 1127.5,367.2 1128.1,363.5 1128.7,358 1129.6,360.7 1130.2,370.9 1130.9,382 1131.6,384.3 1133,384.8 1133.7,385.7 1134.2,391.3 1134.9,397.7 1135.5,403.3 1136.3,406.8 1137,409 1138,408 1139,405.6 1140.4,405.1 1141.3,401.4 1142.3,398.7 1143.2,398.7 1143.8,403.3 1144.6,396.8 1145.3,391.3 1146.2,386.6 1147.2,384.8 1148.1,382 1148.5,372.8 1149,363.5 1150.1,362.6 1151.1,359.8 1152.2,358 1153.1,357 1153.8,363 1154.8,361.7 1155.5,352 1155.9,336.6 1156.4,322.8 1157.1,319.1 1158.3,320 1159.1,316 1159.4,295 1159.6,280 1160,252 1160.5,196 1161.3,165 1163.1,129.2 1164.6,165 1166.5,196 1166.8,201 1167.5,205.5 1168.5,208 1169.5,209 1171,208.8 1171.8,212 1172.5,217 1173,225 1173.5,230 1173.2,234 1174.5,229.5 1175,235 1175.5,242 1176.2,252 1175.8,258 1176.5,266 1177.5,274.5 1178.5,275 1179.2,285 1180,295 1180.8,301.5 1181.3,290 1181.8,275.5 1182.1,301 1182.5,275.5 1182.9,301 1183.3,275.5 1183.7,300.5 1184.1,275.5 1184.5,300 1184.9,275.5 1185.3,299.5 1185.5,275.5 1185.7,298"/>
</g>
<g stroke="#000" stroke-opacity="0.43" stroke-width="2" fill="none">
<line x1="69" x2="69" y1="100" y2="512"/>
<line x1="62" x2="1186" y1="513" y2="513"/>
<line x1="62" x2="70" y1="99" y2="99"/>
<line x1="62" x2="70" y1="205" y2="205"/>
<line x1="62" x2="70" y1="307" y2="307"/>
<line x1="62" x2="70" y1="411" y2="411"/>
<line x1="211" x2="211" y1="512" y2="520"/>
<line x1="423" x2="423" y1="512" y2="520"/>
<line x1="637" x2="637" y1="512" y2="520"/>
<line x1="851" x2="851" y1="512" y2="520"/>
<line x1="1063" x2="1063" y1="512" y2="520"/>
</g>
<text class="ylab" x="55.5" y="106" textLength="43.2" lengthAdjust="spacingAndGlyphs">90%</text>
<text class="ylab" x="55.5" y="210" textLength="43.2" lengthAdjust="spacingAndGlyphs">80%</text>
<text class="ylab" x="55.5" y="312" textLength="43.2" lengthAdjust="spacingAndGlyphs">70%</text>
<text class="ylab" x="55.5" y="416" textLength="43.2" lengthAdjust="spacingAndGlyphs">60%</text>
<text class="ylab" x="55.5" y="518" textLength="43.2" lengthAdjust="spacingAndGlyphs">50%</text>
<text class="xlab" x="211" y="549.8" textLength="63.5" lengthAdjust="spacingAndGlyphs">24 Jan</text>
<text class="xlab" x="424" y="549.8" textLength="63.5" lengthAdjust="spacingAndGlyphs">31 Jan</text>
<text class="xlab" x="637" y="549.8" textLength="56.3" lengthAdjust="spacingAndGlyphs">7 Feb</text>
<text class="xlab" x="850" y="549.8" textLength="68.5" lengthAdjust="spacingAndGlyphs">14 Feb</text>
<text class="xlab" x="1063" y="549.8" textLength="68.5" lengthAdjust="spacingAndGlyphs">21 Feb</text>
<text class="title" x="599.9" y="44.3" textLength="297.4" lengthAdjust="spacingAndGlyphs">BTC ATM Implied Volatility</text>
<text x="29.2" y="43.6" textLength="86.5" lengthAdjust="spacingAndGlyphs" style="font-size:42.5px;font-weight:bold;fill:#000" stroke="#000" stroke-width="0.9">skew</text>
<circle cx="120.7" cy="40.6" r="3.6" fill="#e8a835"/>
<text x="29.6" y="61.7" textLength="12.2" lengthAdjust="spacingAndGlyphs" style="font-size:12.2px;fill:#111" stroke="#111" stroke-width="0.3">by</text>
<text x="46" y="61.7" textLength="78" lengthAdjust="spacingAndGlyphs" style="font-size:19px;fill:#1457ff" stroke="#1457ff" stroke-width="0.6">coinbase</text>
<rect x="938.5" y="79" width="223.5" height="47" fill="#fff"/>
<text class="ann" x="1051" y="98">BTC’s one-week IV pops</text>
<text class="ann" x="1051" y="121">above 6-month IV</text>
<ellipse cx="1152.65" cy="146.5" rx="33.65" ry="36.3" fill="none" stroke="#555" stroke-opacity="0.85" stroke-width="2"/>
<line x1="242" x2="266" y1="580" y2="580" stroke="#4a89f3" stroke-width="2"/>
<text class="legb" x="277" y="585.8" textLength="133.6" lengthAdjust="spacingAndGlyphs">1mth ATM Vol</text>
<text class="leg" x="418.9" y="585.8" textLength="453" lengthAdjust="spacingAndGlyphs">Min: 35.1%, Max: 181.8%, Avg: 76.4%, Last: 65.1%</text>
<line x1="242" x2="266" y1="604" y2="604" stroke="#f44242" stroke-width="2"/>
<text class="legb" x="276.7" y="609.2" textLength="133.9" lengthAdjust="spacingAndGlyphs">3mth ATM Vol</text>
<text class="leg" x="418.9" y="609.2" textLength="456.8" lengthAdjust="spacingAndGlyphs">Min: 40.9%, Max: 157.7%, Avg: 80.2%, Last: 66.7%</text>
<line x1="242" x2="266" y1="628" y2="628" stroke="#149f5b" stroke-width="2"/>
<text class="legb" x="277" y="633.4" textLength="134.3" lengthAdjust="spacingAndGlyphs">6mth ATM Vol</text>
<text class="leg" x="419.6" y="633.4" textLength="454.9" lengthAdjust="spacingAndGlyphs">Min: 44.3%, Max: 172.8%, Avg: 81.5%, Last: 68.8%</text>
<line x1="242" x2="266" y1="652" y2="652" stroke="#e8a328" stroke-width="2"/>
<text class="legb" x="277" y="657.7" textLength="123.8" lengthAdjust="spacingAndGlyphs">1wk ATM Vol</text>
<text class="leg" x="409.1" y="657.7" textLength="455.3" lengthAdjust="spacingAndGlyphs">Min: 30.5%, Max: 243.8%, Avg: 72.8%, Last: 64.5%</text>
</svg>
</body></html>
